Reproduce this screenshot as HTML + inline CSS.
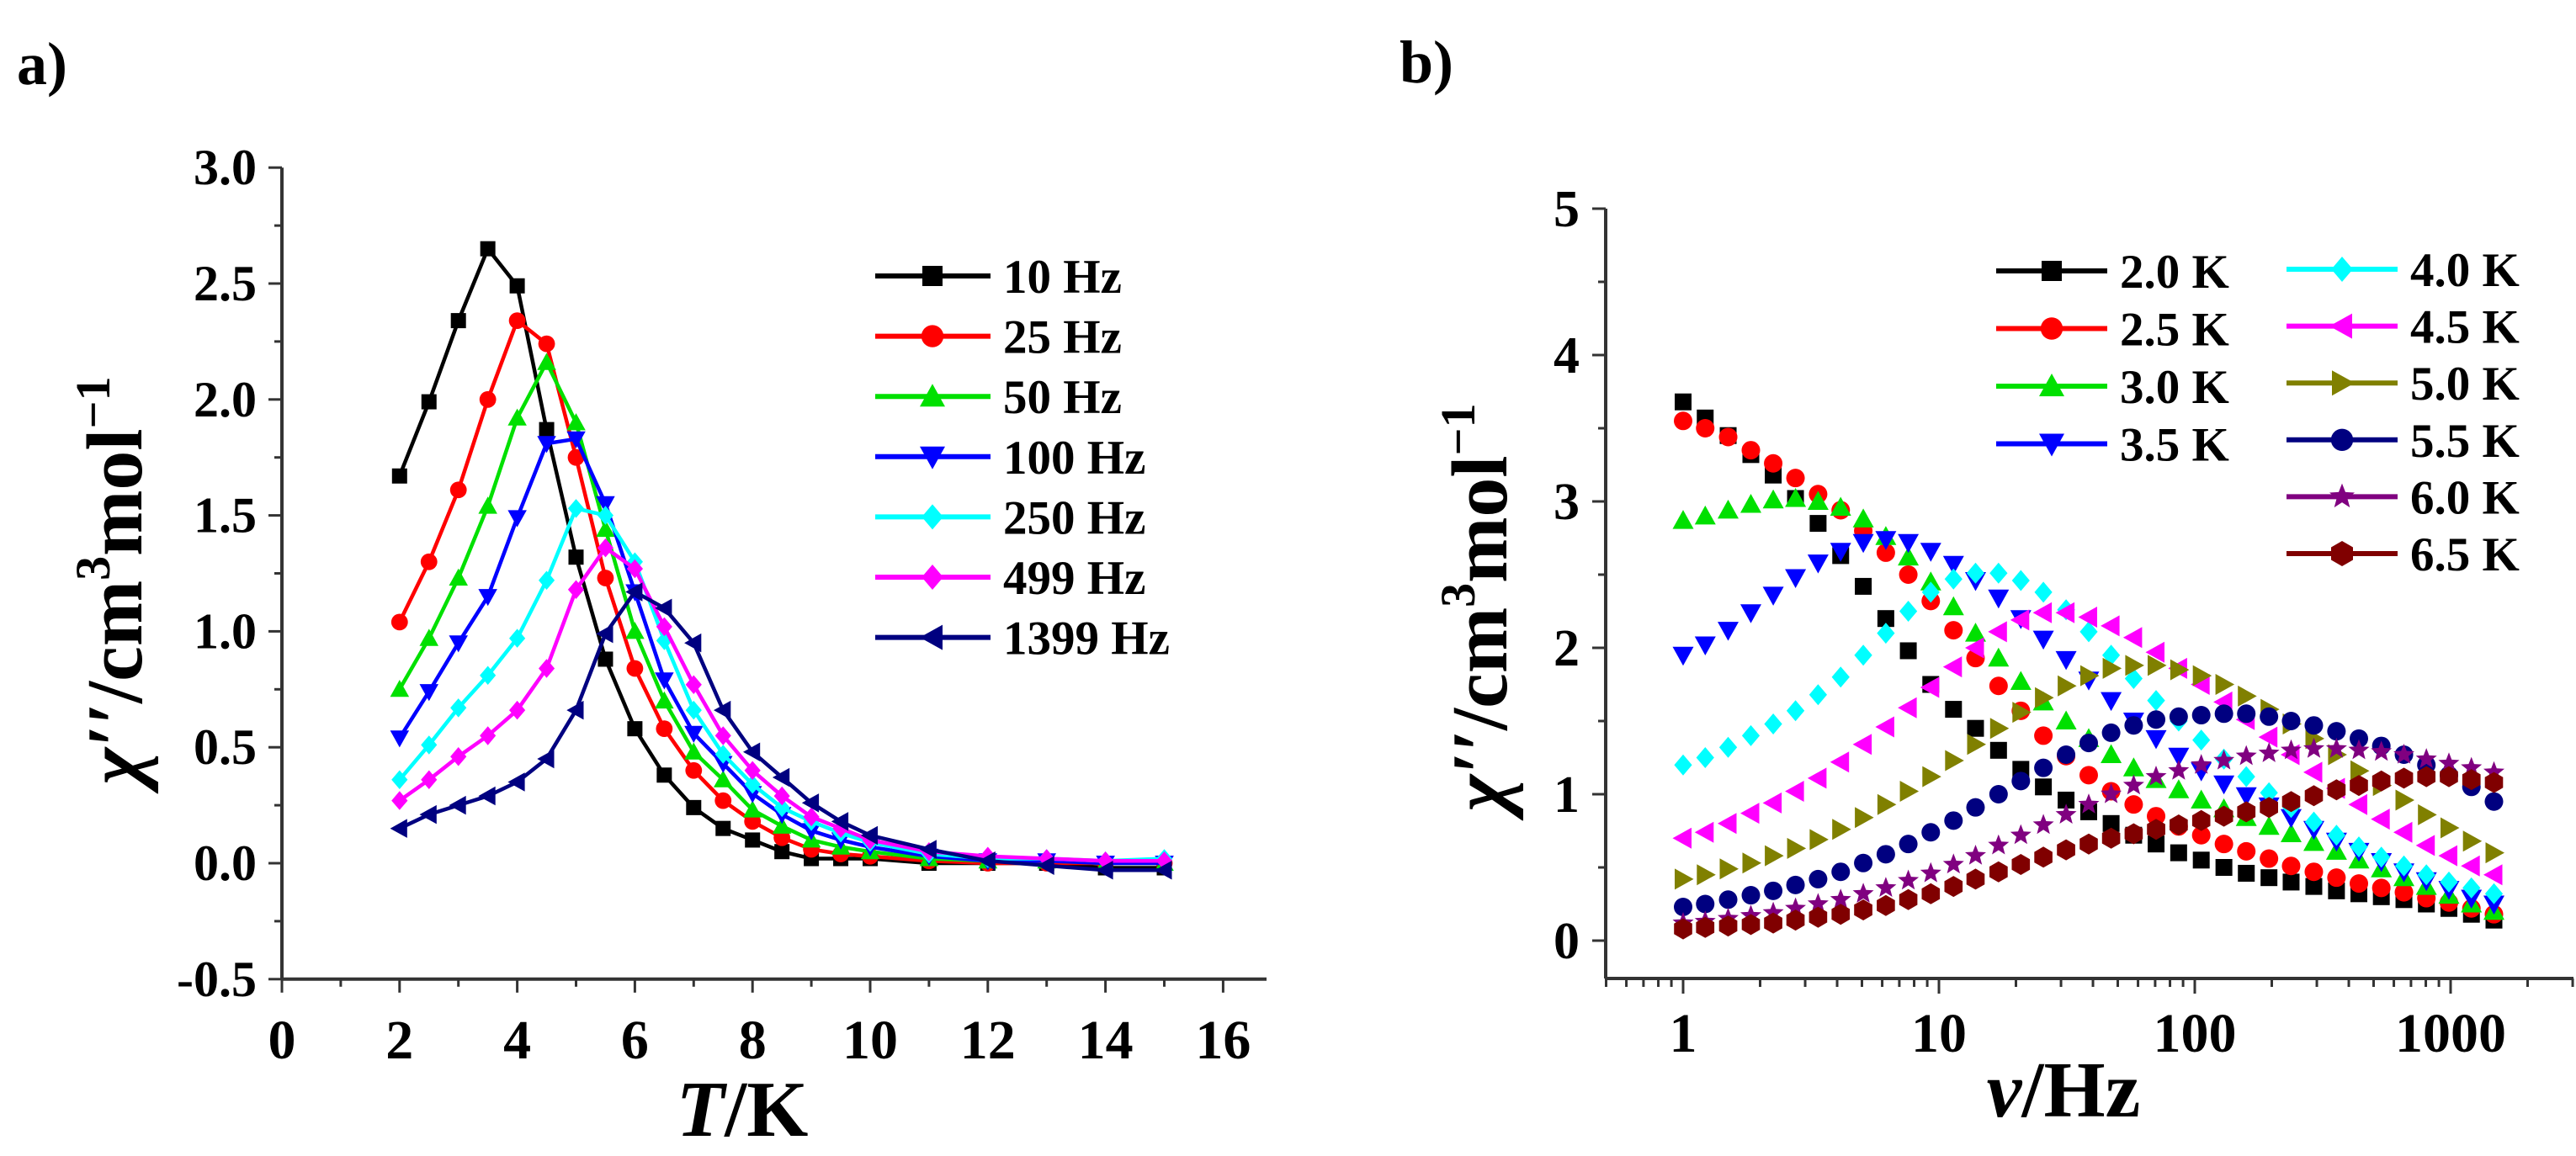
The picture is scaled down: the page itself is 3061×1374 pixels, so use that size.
<!DOCTYPE html>
<html><head><meta charset="utf-8"><style>
html,body{margin:0;padding:0;background:#fff;}
svg{display:block;font-family:"Liberation Serif",serif;font-weight:bold;}
</style></head><body>
<svg id="fig" width="3061" height="1374" viewBox="0 0 3061 1374" xmlns="http://www.w3.org/2000/svg">
<g id="pa"></g>
<g id="pb"></g>
</svg>
<script>
// ---------- Panel a data ----------
const tempsA = [2,2.5,3,3.5,4,4.5,5,5.5,6,6.5,7,7.5,8,8.5,9,9.5,10,11,12,13,14,15];
const seriesNamesA = ["10 Hz","25 Hz","50 Hz","100 Hz","250 Hz","499 Hz","1399 Hz"];
const s10 = [1.67,1.99,2.34,2.65,2.49,1.87,1.32,0.88,0.58,0.38,0.24,0.15,0.10,0.05,0.02,0.02,0.02,0.0,0.0,0.0,-0.02,-0.02];
const s25 = [1.04,1.30,1.61,2.00,2.34,2.24,1.75,1.23,0.84,0.58,0.40,0.27,0.18,0.11,0.06,0.04,0.03,0.01,0.0,0.0,0.0,0.0];
const s50 = [0.75,0.97,1.23,1.54,1.92,2.16,1.90,1.44,1.00,0.70,0.48,0.36,0.23,0.16,0.10,0.07,0.05,0.02,0.01,0.01,0.0,0.0];
const s100 = [0.54,0.74,0.95,1.15,1.49,1.81,1.83,1.55,1.17,0.79,0.56,0.43,0.30,0.21,0.14,0.10,0.07,0.03,0.01,0.01,0.0,0.0];
const s250 = [0.36,0.51,0.67,0.81,0.97,1.22,1.53,1.50,1.30,0.96,0.66,0.47,0.34,0.24,0.18,0.13,0.09,0.04,0.02,0.02,0.01,0.02];
const s499 = [0.27,0.36,0.46,0.55,0.66,0.84,1.18,1.36,1.27,1.02,0.77,0.55,0.40,0.29,0.20,0.15,0.10,0.05,0.03,0.02,0.01,0.01];
const s1399 = [0.15,0.21,0.25,0.29,0.35,0.45,0.66,0.99,1.17,1.10,0.95,0.66,0.48,0.37,0.26,0.18,0.12,0.06,0.01,-0.01,-0.03,-0.03];
const xTicksA = [0,2,4,6,8,10,12,14,16];
const yTicksA = ["-0.5","0.0","0.5","1.0","1.5","2.0","2.5","3.0"];

// ---------- Panel b data ----------
const freqsB = [1,1.22,1.50,1.84,2.25,2.75,3.37,4.13,5.06,6.20,7.59,9.29,11.4,13.9,17.1,20.9,25.6,31.4,38.5,47.1,57.7,70.6,86.5,106,130,159,195,238,292,358,438,536,657,804,985,1206,1477];
const seriesNamesB = ["2.0 K","2.5 K","3.0 K","3.5 K","4.0 K","4.5 K","5.0 K","5.5 K","6.0 K","6.5 K"];
const k20 = [3.68,3.57,3.45,3.32,3.18,3.02,2.85,2.63,2.42,2.20,1.98,1.75,1.58,1.45,1.30,1.17,1.05,0.96,0.88,0.80,0.72,0.66,0.60,0.55,0.50,0.46,0.43,0.40,0.37,0.34,0.32,0.30,0.28,0.25,0.22,0.18,0.14];
const k25 = [3.55,3.50,3.44,3.35,3.26,3.16,3.05,2.94,2.80,2.65,2.50,2.32,2.12,1.93,1.74,1.57,1.40,1.26,1.13,1.02,0.93,0.85,0.78,0.72,0.66,0.61,0.56,0.51,0.47,0.43,0.39,0.36,0.33,0.29,0.26,0.22,0.18];
const k30 = [2.87,2.90,2.94,2.98,3.01,3.02,3.00,2.96,2.88,2.76,2.62,2.45,2.28,2.10,1.93,1.77,1.63,1.50,1.38,1.27,1.18,1.10,1.03,0.96,0.90,0.84,0.78,0.73,0.67,0.61,0.55,0.49,0.43,0.37,0.31,0.25,0.20];
const k35 = [1.95,2.02,2.12,2.24,2.36,2.48,2.58,2.66,2.72,2.74,2.72,2.66,2.57,2.46,2.34,2.20,2.06,1.92,1.78,1.64,1.50,1.38,1.26,1.16,1.07,0.99,0.92,0.84,0.76,0.68,0.61,0.54,0.47,0.41,0.35,0.29,0.25];
const k40 = [1.20,1.25,1.32,1.40,1.48,1.57,1.68,1.80,1.95,2.10,2.25,2.38,2.47,2.51,2.51,2.46,2.38,2.26,2.11,1.95,1.79,1.64,1.50,1.37,1.24,1.12,1.01,0.91,0.81,0.72,0.64,0.57,0.51,0.45,0.40,0.36,0.32];
const k45 = [0.70,0.74,0.80,0.87,0.94,1.02,1.11,1.22,1.34,1.46,1.59,1.73,1.87,2.00,2.11,2.19,2.24,2.24,2.21,2.15,2.07,1.97,1.86,1.75,1.63,1.51,1.39,1.27,1.15,1.04,0.93,0.83,0.74,0.65,0.58,0.51,0.45];
const k50 = [0.42,0.45,0.49,0.53,0.58,0.63,0.69,0.76,0.84,0.93,1.02,1.12,1.23,1.34,1.45,1.56,1.66,1.74,1.81,1.86,1.88,1.88,1.85,1.81,1.75,1.67,1.58,1.48,1.38,1.27,1.16,1.06,0.96,0.86,0.77,0.68,0.60];
const k55 = [0.23,0.25,0.28,0.31,0.34,0.38,0.42,0.47,0.53,0.59,0.66,0.74,0.82,0.91,1.00,1.09,1.18,1.27,1.35,1.42,1.47,1.51,1.53,1.54,1.55,1.55,1.53,1.50,1.47,1.43,1.38,1.33,1.27,1.20,1.13,1.05,0.95];
const k60 = [0.12,0.13,0.15,0.17,0.19,0.22,0.25,0.28,0.32,0.36,0.41,0.46,0.52,0.58,0.65,0.72,0.79,0.86,0.93,1.00,1.06,1.12,1.16,1.20,1.23,1.26,1.28,1.30,1.31,1.31,1.30,1.29,1.27,1.24,1.21,1.18,1.15];
const k65 = [0.08,0.09,0.10,0.11,0.12,0.14,0.16,0.18,0.21,0.24,0.28,0.32,0.37,0.42,0.47,0.52,0.57,0.62,0.66,0.70,0.73,0.76,0.79,0.82,0.85,0.88,0.91,0.95,0.99,1.03,1.06,1.09,1.11,1.12,1.12,1.10,1.08];
const xTicksB = [1,10,100,1000];
const yTicksB = [0,1,2,3,4,5];

const NS = "http://www.w3.org/2000/svg";
function mk(parent, tag, attrs, text){
  const e = document.createElementNS(NS, tag);
  for (const k in attrs) e.setAttribute(k, attrs[k]);
  if (text !== undefined) e.textContent = text;
  parent.appendChild(e);
  return e;
}
function marker(g, shape, cx, cy, r, color){
  let e;
  if (shape === "square") e = mk(g,"rect",{x:cx-r,y:cy-r,width:2*r,height:2*r,fill:color});
  else if (shape === "circle") e = mk(g,"circle",{cx:cx,cy:cy,r:r*1.1,fill:color});
  else {
    let pts;
    const s = r*1.25;
    if (shape === "up") pts = [[cx,cy-s],[cx+s,cy+s*0.8],[cx-s,cy+s*0.8]];
    else if (shape === "down") pts = [[cx,cy+s],[cx+s,cy-s*0.8],[cx-s,cy-s*0.8]];
    else if (shape === "left") pts = [[cx-s,cy],[cx+s*0.8,cy-s],[cx+s*0.8,cy+s]];
    else if (shape === "right") pts = [[cx+s,cy],[cx-s*0.8,cy-s],[cx-s*0.8,cy+s]];
    else if (shape === "diamond") pts = [[cx,cy-s],[cx+s*0.85,cy],[cx,cy+s],[cx-s*0.85,cy]];
    else if (shape === "star") { pts=[]; for(let i=0;i<10;i++){const a=-Math.PI/2+i*Math.PI/5; const rr=i%2?s*0.45:s*1.05; pts.push([cx+rr*Math.cos(a),cy+rr*Math.sin(a)]);} }
    else if (shape === "hex") { pts=[]; for(let i=0;i<6;i++){const a=Math.PI/6+i*Math.PI/3; pts.push([cx+s*Math.cos(a),cy+s*Math.sin(a)]);} }
    e = mk(g,"polygon",{points:pts.map(p=>p[0].toFixed(1)+","+p[1].toFixed(1)).join(" "),fill:color});
  }
  return e;
}

// ================= Panel A =================
(function(){
  const g = document.getElementById("pa");
  const X0 = 335, XU = 69.9;
  const Y0 = 1026, YU = 275.6;
  const xA = v => X0 + v*XU;
  const yA = v => Y0 - v*YU;
  const lbl = mk(g,"text",{x:20,y:100,"font-size":72},"a)");
  
  
  const ax = mk(g,"g",{});
  
  
  const yBot = yA(-0.5), yTop = yA(3.0);
  mk(ax,"line",{x1:X0,y1:yTop,x2:X0,y2:yBot,stroke:"#333","stroke-width":4});
  mk(ax,"line",{x1:X0,y1:yBot,x2:1505,y2:yBot,stroke:"#333","stroke-width":4});
  for (let i=0;i<yTicksA.length;i++){
    const v = parseFloat(yTicksA[i]), y = yA(v);
    mk(ax,"line",{x1:X0-16,y1:y,x2:X0,y2:y,stroke:"#333","stroke-width":3});
    if (i<yTicksA.length-1) mk(ax,"line",{x1:X0-9,y1:yA(v+0.25),x2:X0,y2:yA(v+0.25),stroke:"#333","stroke-width":3});
    const t = mk(ax,"text",{x:305,y:y+20,"font-size":60,"text-anchor":"end"},yTicksA[i]);
    
    
  }
  for (let i=0;i<xTicksA.length;i++){
    const v = xTicksA[i], x = xA(v);
    mk(ax,"line",{x1:x,y1:yBot,x2:x,y2:yBot+16,stroke:"#333","stroke-width":3});
    if (i<xTicksA.length-1) mk(ax,"line",{x1:xA(v+1),y1:yBot,x2:xA(v+1),y2:yBot+9,stroke:"#333","stroke-width":3});
    const t = mk(ax,"text",{x:x,y:1258,"font-size":66,"text-anchor":"middle"},String(v));
    
    
  }
  const xt = mk(g,"text",{x:882,y:1350,"font-size":94,"text-anchor":"middle"});
  
  
  mk(xt,"tspan",{"font-style":"italic"},"T");
  mk(xt,"tspan",{},"/K");
  const yt = mk(g,"text",{x:0,y:0,"font-size":94,"text-anchor":"middle",transform:"translate(168,690) rotate(-90)"});
  
  
  mk(yt,"tspan",{"font-style":"italic"},"χ′′");
  mk(yt,"tspan",{},"/cm");
  mk(yt,"tspan",{"font-size":58,dy:-38},"3");
  mk(yt,"tspan",{dy:38},"mol");
  mk(yt,"tspan",{"font-size":58,dy:-38},"−1");

  const series = [s10,s25,s50,s100,s250,s499,s1399];
  const colors = ["#000000","#ff0000","#00e000","#0000ff","#00ffff","#ff00ff","#000080"];
  const shapes = ["square","circle","up","down","diamond","diamond","left"];
  const names = ["series-10hz","series-25hz","series-50hz","series-100hz","series-250hz","series-499hz","series-1399hz"];
  for (let s=0;s<series.length;s++){
    const sg = mk(g,"g",{});
    
    
    const d = series[s].map((v,i)=>(i?"L":"M")+xA(tempsA[i]).toFixed(1)+","+yA(v).toFixed(1)).join(" ");
    mk(sg,"path",{d:d,fill:"none",stroke:colors[s],"stroke-width":4.5});
    series[s].forEach((v,i)=>{
      const m = marker(sg,shapes[s],xA(tempsA[i]),yA(v),9,colors[s]);
      
      
    });
  }
  const lg = mk(g,"g",{});
  
  
  for (let s=0;s<seriesNamesA.length;s++){
    const y = 328 + s*71.6;
    const e = mk(lg,"g",{});
    
    
    mk(e,"line",{x1:1040,y1:y,x2:1177,y2:y,stroke:colors[s],"stroke-width":6});
    marker(e,shapes[s],1108,y,12,colors[s]);
    mk(e,"text",{x:1192,y:y+20,"font-size":57},seriesNamesA[s]);
  }
})();

// ================= Panel B =================
(function(){
  const g = document.getElementById("pb");
  const XL = 2000, XD = 304;
  const Y0 = 1118, YU = 174;
  const xB = f => XL + Math.log10(f)*XD;
  const yB = v => Y0 - v*YU;
  const AXL = 1908, AXR = 3058, AXB = 1163;
  const lbl = mk(g,"text",{x:1663,y:98,"font-size":72},"b)");
  
  
  const ax = mk(g,"g",{});
  
  
  mk(ax,"line",{x1:AXL,y1:yB(5),x2:AXL,y2:AXB,stroke:"#333","stroke-width":4});
  mk(ax,"line",{x1:AXL,y1:AXB,x2:AXR,y2:AXB,stroke:"#333","stroke-width":4});
  for (let i=0;i<yTicksB.length;i++){
    const v = yTicksB[i], y = yB(v);
    mk(ax,"line",{x1:AXL-16,y1:y,x2:AXL,y2:y,stroke:"#333","stroke-width":3});
    if (i<yTicksB.length-1) mk(ax,"line",{x1:AXL-9,y1:yB(v+0.5),x2:AXL,y2:yB(v+0.5),stroke:"#333","stroke-width":3});
    const t = mk(ax,"text",{x:1877,y:y+21,"font-size":62,"text-anchor":"end"},String(v));
    
    
  }
  for (let dec=-1; dec<=3; dec++){
    for (let m=1;m<=9;m++){
      const f = m*Math.pow(10,dec), x = xB(f);
      if (x < AXL || x > AXR) continue;
      mk(ax,"line",{x1:x,y1:AXB,x2:x,y2:AXB+(m===1?18:10),stroke:"#333","stroke-width":3});
    }
  }
  for (const f of xTicksB){
    const t = mk(ax,"text",{x:xB(f),y:1250,"font-size":66,"text-anchor":"middle"},String(f));
    
    
  }
  const xt = mk(g,"text",{x:2452,y:1327,"font-size":94,"text-anchor":"middle"});
  
  
  mk(xt,"tspan",{"font-style":"italic"},"ν");
  mk(xt,"tspan",{},"/Hz");
  const yt = mk(g,"text",{x:0,y:0,"font-size":94,"text-anchor":"middle",transform:"translate(1790,722) rotate(-90)"});
  
  
  mk(yt,"tspan",{"font-style":"italic"},"χ′′");
  mk(yt,"tspan",{},"/cm");
  mk(yt,"tspan",{"font-size":58,dy:-38},"3");
  mk(yt,"tspan",{dy:38},"mol");
  mk(yt,"tspan",{"font-size":58,dy:-38},"−1");

  const series = [k20,k25,k30,k35,k40,k45,k50,k55,k60,k65];
  const colors = ["#000000","#ff0000","#00e000","#0000ff","#00ffff","#ff00ff","#808000","#000080","#800080","#800000"];
  const shapes = ["square","circle","up","down","diamond","left","right","circle","star","hex"];
  for (let s=0;s<series.length;s++){
    const sg = mk(g,"g",{});
    
    
    series[s].forEach((v,i)=>{
      const m = marker(sg,shapes[s],xB(freqsB[i]),yB(v),10,colors[s]);
      
      
    });
  }
  const lg = mk(g,"g",{});
  
  
  for (let s=0;s<seriesNamesB.length;s++){
    let lx, y;
    if (s<4){ lx = 2372; y = 322 + s*68.5; } else { lx = 2717; y = 320 + (s-4)*67.6; }
    const e = mk(lg,"g",{});
    
    
    mk(e,"line",{x1:lx,y1:y,x2:lx+132,y2:y,stroke:colors[s],"stroke-width":6});
    marker(e,shapes[s],lx+66,y,12,colors[s]);
    mk(e,"text",{x:lx+147,y:y+20,"font-size":57},seriesNamesB[s]);
  }
})();
</script>
</body></html>
